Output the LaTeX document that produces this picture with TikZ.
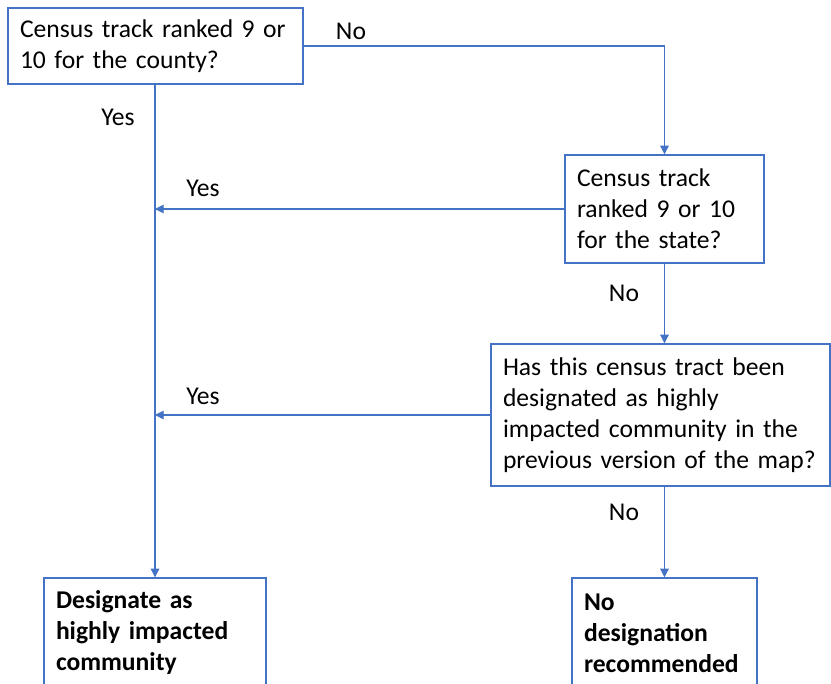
\documentclass[tikz,border=0pt]{standalone}
\usepackage{fontspec}
\setmainfont{Carlito}
\usetikzlibrary{arrows.meta,calc}
\definecolor{obl}{HTML}{4472C4}
\begin{document}
\begin{tikzpicture}[x=0.75pt,y=-0.75pt,
  box/.style={draw=obl,line width=1.1pt,fill=white,inner xsep=9pt,inner ysep=0pt,align=left,
    font=\fontsize{19.2pt}{23.25pt}\selectfont},
  conn/.style={draw=obl,line width=0.8pt},
  arr/.style={conn,-{Triangle[width=6.5pt,length=6.5pt]}},
  lbl/.style={font=\fontsize{19.2pt}{23.25pt}\selectfont,inner sep=0pt}]
\useasboundingbox (0,0) rectangle (831,683);
\clip (0,0) rectangle (831,683);
\node[box,text width=221.25pt-18pt,minimum height=57pt] (b1) at (155.5,46) {Census track ranked 9 or\\10 for the county?};
\node[box,text width=149.25pt-18pt,minimum height=81pt] (b2) at (664.5,209) {Census track\\ranked 9 or 10\\for the state?};
\node[box,text width=254.25pt-18pt,minimum height=106.5pt] (b3) at (660.5,415) {Has this census tract been\\designated as highly\\impacted community in the\\previous version of the map?};
\node[box,text width=166.5pt-18pt,minimum height=82.5pt,font=\fontsize{19.2pt}{23.25pt}\selectfont\bfseries] (b4) at (155,633) {Designate as\\highly impacted\\community};
\node[box,text width=138.75pt-18pt,minimum height=82.5pt,font=\fontsize{19.2pt}{23.25pt}\selectfont\bfseries] (b5) at (664.5,633) {No\\designation\\recommended};
\draw[arr] (b1.east) -| (b2.north);
\draw[arr] (b1.south -| b4.north) -- (b4.north);
\coordinate (j1) at (b2.west -| b4.north);
\coordinate (j2) at (b3.west -| b4.north);
\draw[arr] (b2.west) -- (j1);
\draw[arr] (b3.west) -- (j2);
\draw[arr] (b2.south) -- (b2.south |- b3.north);
\draw[arr] (b3.south -| b5.north) -- (b5.north);
\node[lbl] (n1) at (351,31) {No};
\node[lbl] (y1) at (118,117) {Yes};
\node[lbl] (y2) at (203,188) {Yes};
\node[lbl] (n2) at (624,293) {No};
\node[lbl] (y3) at (203,396) {Yes};
\node[lbl] (n3) at (624,512) {No};
\end{tikzpicture}
\end{document}
